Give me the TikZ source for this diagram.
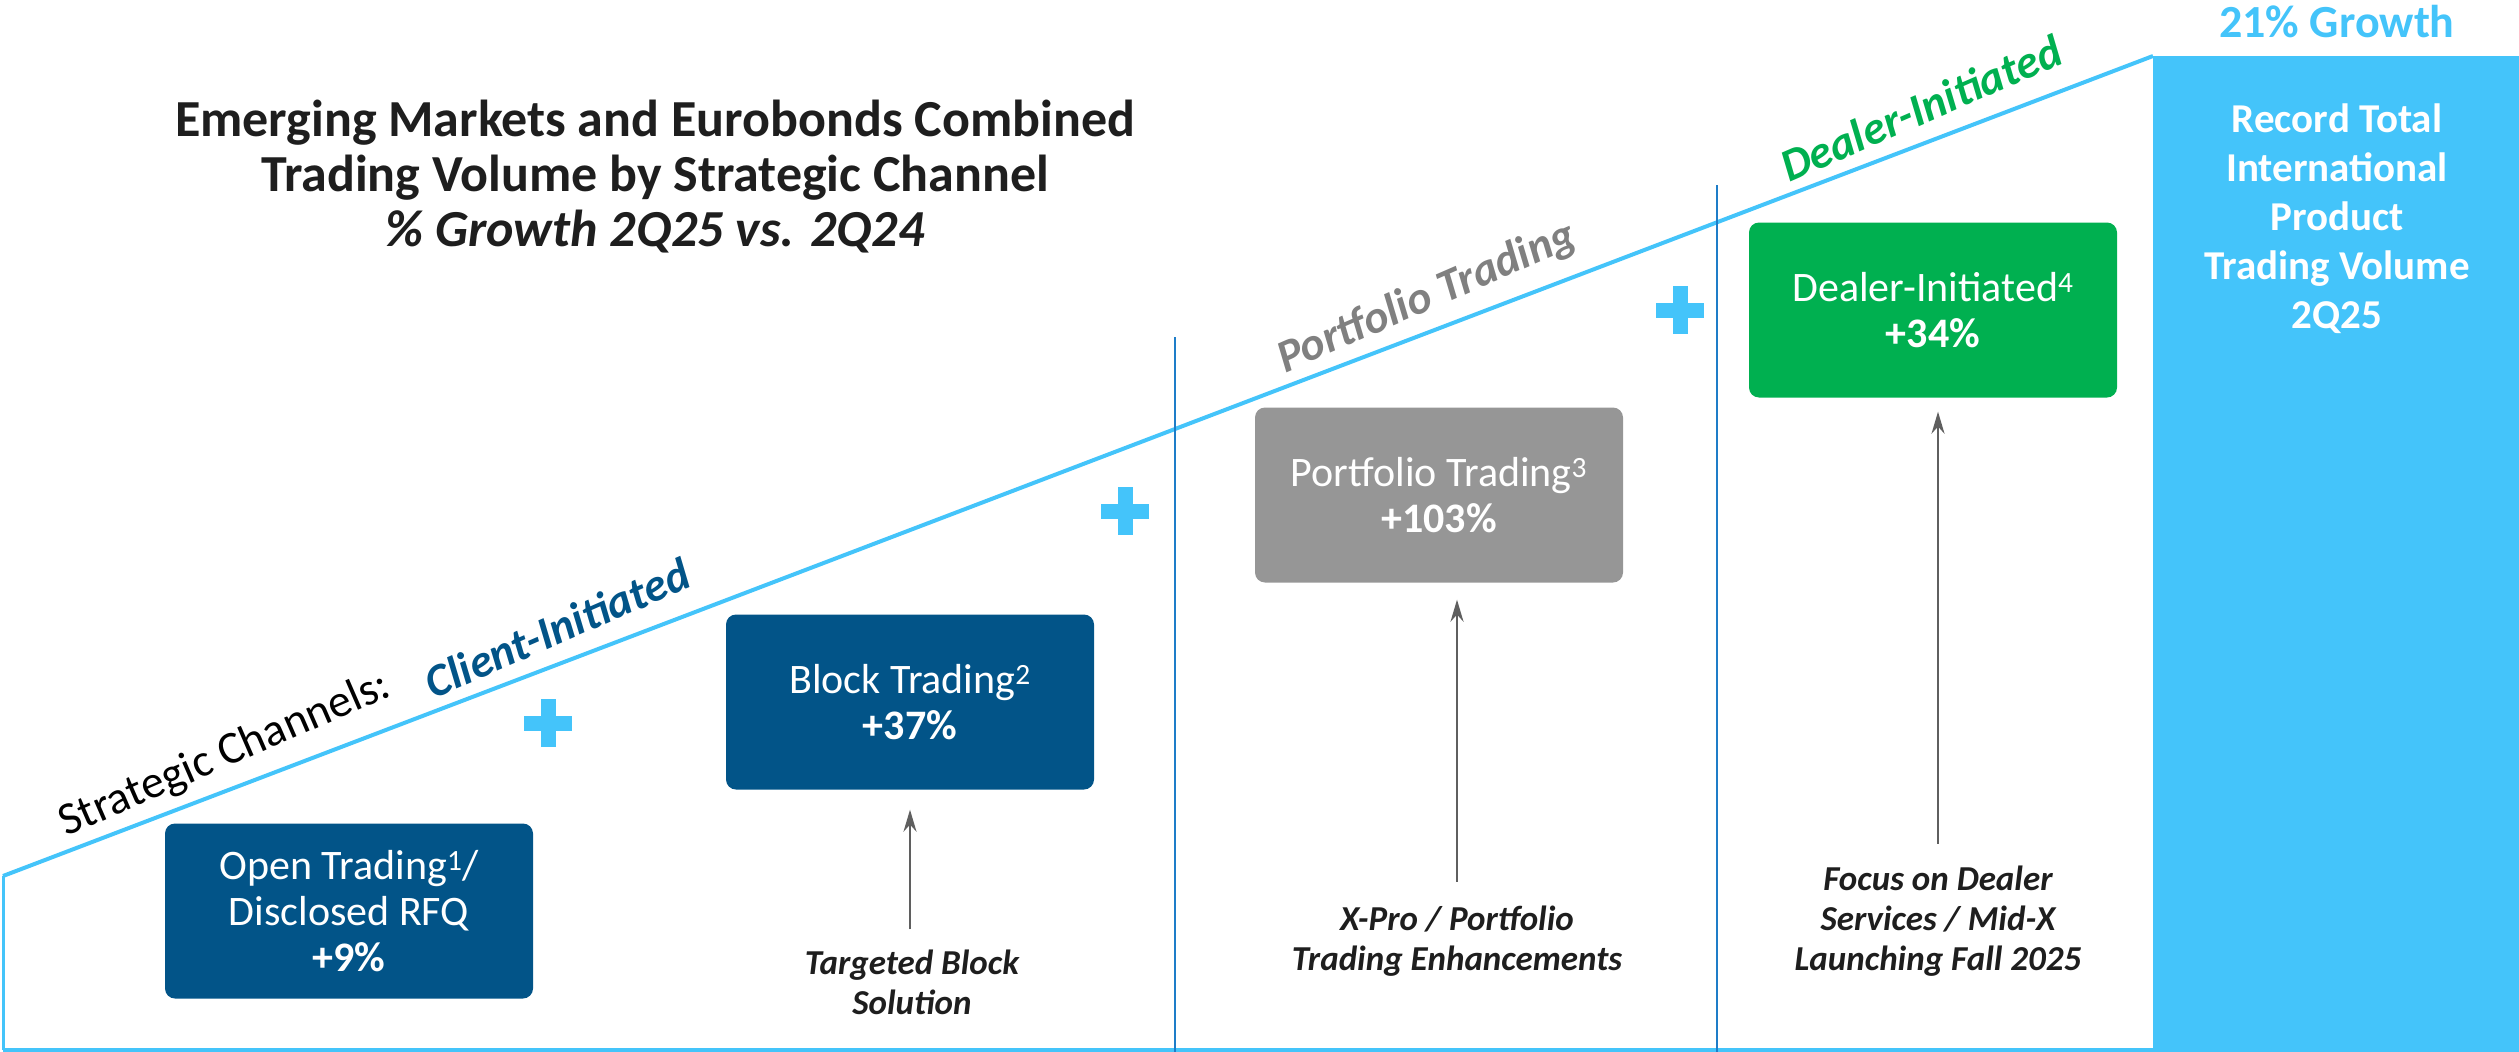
\documentclass[tikz,border=0pt]{standalone}
\usepackage{fontspec}
\setmainfont{Carlito}
\usetikzlibrary{arrows.meta}
\definecolor{dblue}{RGB}{2,84,136}
\definecolor{lblue}{RGB}{68,196,250}
\definecolor{pgray}{RGB}{150,150,150}
\definecolor{dgreen}{RGB}{0,176,80}
\definecolor{vline}{RGB}{30,125,200}
\definecolor{agray}{RGB}{95,95,95}
\definecolor{tgray}{RGB}{128,128,128}
\definecolor{ttext}{RGB}{30,30,30}
\begin{document}
\begin{tikzpicture}[x=1pt,y=-1pt,
  chbox/.style={rounded corners=10pt, minimum width=368pt, minimum height=175pt,
    text=white, align=center, inner sep=0pt, font=\fontsize{42}{46}\selectfont},
  ann/.style={align=center, text=ttext, font=\fontsize{35}{40}\selectfont\bfseries\itshape, inner sep=0pt},
  arr/.style={draw=agray, line width=2.5pt, -{Stealth[length=22pt,width=13pt]}},
  rlab/.style={rotate=23.5, inner sep=0pt, font=\fontsize{46}{50}\selectfont},
  plusmark/.style={draw=lblue, line width=15pt}
]
\useasboundingbox (0,0) rectangle (2519,1052);
% frame lines
\draw[lblue, line width=4pt] (3,1050) -- (2153,1050);
\draw[lblue, line width=3pt] (3,1050) -- (3,876);
\draw[lblue, line width=4pt] (3,876) -- (2153,56);
\draw[vline, line width=2pt] (1175,337) -- (1175,1052);
\draw[vline, line width=2pt] (1717,185) -- (1717,1052);
% right panel
\fill[lblue] (2153,56) rectangle (2519,1052);
\node[text=lblue, font=\fontsize{46}{50}\selectfont\bfseries] (growth) at (2337,22) {21\% Growth};
\node[text=white, align=center, font=\fontsize{41}{49}\selectfont\bfseries] (record) at (2337,219)
  {Record Total\\International\\Product\\Trading Volume\\2Q25};
% title
\node[text=ttext, align=center, font=\fontsize{52}{55}\selectfont\bfseries] (title) at (655,177)
  {Emerging Markets and Eurobonds Combined\\Trading Volume by Strategic Channel\\\textit{\% Growth 2Q25 vs. 2Q24}};
% rotated labels
\node[rlab, text=black] (sc) at (225,755) {Strategic Channels:};
\node[rlab, text=dblue, font=\fontsize{46}{50}\selectfont\bfseries\itshape] (ci) at (557,628) {Client-Initiated};
\node[rlab, text=tgray, font=\fontsize{46}{50}\selectfont\bfseries\itshape] (pt) at (1427,298) {Portfolio Trading};
\node[rlab, text=dgreen, font=\fontsize{46}{50}\selectfont\bfseries\itshape] (di) at (1921,108) {Dealer-Initiated};
% boxes
\node[chbox, fill=dblue] (open) at (349,911) {Open Trading\textsuperscript{1}/\\Disclosed RFQ\\\textbf{+9\%}};
\node[chbox, fill=dblue] (block) at (910,702) {Block Trading\textsuperscript{2}\\\textbf{+37\%}};
\node[chbox, fill=pgray] (port) at (1439,495) {Portfolio Trading\textsuperscript{3}\\\textbf{+103\%}};
\node[chbox, fill=dgreen] (deal) at (1933,310) {Dealer-Initiated\textsuperscript{4}\\\textbf{+34\%}};
% plus signs
\draw[plusmark] (524,723) -- (572,723) (548,699) -- (548,747);
\draw[plusmark] (1101,511) -- (1149,511) (1125,487) -- (1125,535);
\draw[plusmark] (1656,310) -- (1704,310) (1680,286) -- (1680,334);
% annotations
\node[ann] (a1) at (912,982) {Targeted Block\\Solution};
\node[ann] (a2) at (1457,941) {X-Pro / Portfolio\\Trading Enhancements};
\node[ann] (a3) at (1938,921) {Focus on Dealer\\Services / Mid-X\\Launching Fall 2025};
\draw[arr, shorten <=20pt, shorten >=20pt] (a1.north -| block.south) -- (block.south);
\draw[arr, shorten <=24pt, shorten >=17pt] (a2.north) -- (a2.north |- port.south);
\draw[arr, shorten <=22pt, shorten >=14pt] (a3.north) -- (a3.north |- deal.south);
\end{tikzpicture}
\end{document}
